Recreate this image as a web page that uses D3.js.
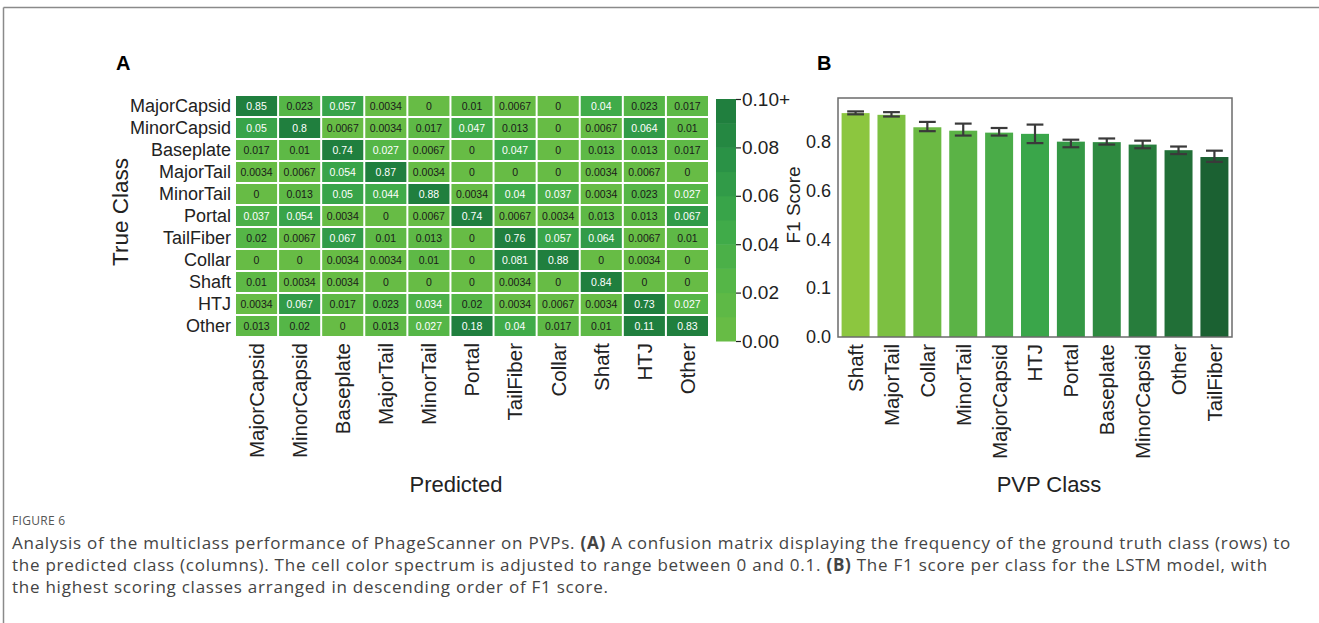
<!DOCTYPE html>
<html>
<head>
<meta charset="utf-8">
<script src="https://cdn.jsdelivr.net/npm/d3@7"></script>
<style>
  html, body { margin: 0; padding: 0; background: #fff; }
  svg { display: block; }
  text { font-family: "Liberation Sans", Arial, Helvetica, sans-serif; }
  .cap { font-family: "Open Sans", "Noto Sans", sans-serif; }
</style>
</head>
<body>
<svg id="fig" width="1319" height="623"></svg>
<script>
// ---- Confusion matrix (rows: true class, columns: predicted class) ----
const classes = ["MajorCapsid", "MinorCapsid", "Baseplate", "MajorTail", "MinorTail",
                 "Portal", "TailFiber", "Collar", "Shaft", "HTJ", "Other"];
const rowMajorCapsid = [0.85, 0.023, 0.057, 0.0034, 0, 0.01, 0.0067, 0, 0.04, 0.023, 0.017];
const rowMinorCapsid = [0.05, 0.8, 0.0067, 0.0034, 0.017, 0.047, 0.013, 0, 0.0067, 0.064, 0.01];
const rowBaseplate   = [0.017, 0.01, 0.74, 0.027, 0.0067, 0, 0.047, 0, 0.013, 0.013, 0.017];
const rowMajorTail   = [0.0034, 0.0067, 0.054, 0.87, 0.0034, 0, 0, 0, 0.0034, 0.0067, 0];
const rowMinorTail   = [0, 0.013, 0.05, 0.044, 0.88, 0.0034, 0.04, 0.037, 0.0034, 0.023, 0.027];
const rowPortal      = [0.037, 0.054, 0.0034, 0, 0.0067, 0.74, 0.0067, 0.0034, 0.013, 0.013, 0.067];
const rowTailFiber   = [0.02, 0.0067, 0.067, 0.01, 0.013, 0, 0.76, 0.057, 0.064, 0.0067, 0.01];
const rowCollar      = [0, 0, 0.0034, 0.0034, 0.01, 0, 0.081, 0.88, 0, 0.0034, 0];
const rowShaft       = [0.01, 0.0034, 0.0034, 0, 0, 0, 0.0034, 0, 0.84, 0, 0];
const rowHTJ         = [0.0034, 0.067, 0.017, 0.023, 0.034, 0.02, 0.0034, 0.0067, 0.0034, 0.73, 0.027];
const rowOther       = [0.013, 0.02, 0, 0.013, 0.027, 0.18, 0.04, 0.017, 0.01, 0.11, 0.83];
const confusion = [rowMajorCapsid, rowMinorCapsid, rowBaseplate, rowMajorTail, rowMinorTail,
                   rowPortal, rowTailFiber, rowCollar, rowShaft, rowHTJ, rowOther];

const colorbarTicks = [0, 0.02, 0.04, 0.06, 0.08, 0.10];
const colorbarTickLabels = ["0.00", "0.02", "0.04", "0.06", "0.08", "0.10+"];

// ---- F1 score per class (LSTM) ----
const f1Classes = ["Shaft", "MajorTail", "Collar", "MinorTail", "MajorCapsid", "HTJ",
                   "Portal", "Baseplate", "MinorCapsid", "Other", "TailFiber"];
const f1Scores = [0.918, 0.911, 0.860, 0.846, 0.838, 0.833, 0.801, 0.799, 0.789, 0.766, 0.738];
const f1Lower  = [0.913, 0.904, 0.844, 0.826, 0.826, 0.795, 0.778, 0.789, 0.774, 0.750, 0.718];
const f1Upper  = [0.925, 0.922, 0.882, 0.875, 0.857, 0.871, 0.809, 0.814, 0.805, 0.781, 0.764];
const f1TickValues = [0, 0.2, 0.4, 0.6, 0.8];
const f1TickLabels = ["0.0", "0.1", "0.4", "0.6", "0.8"];

const svg = d3.select("#fig");
const ink = "#222";

// Figure frame
svg.append("line").attr("x1", 3.5).attr("x2", 1319).attr("y1", 7.5).attr("y2", 7.5)
  .attr("stroke", "#8a8a8a").attr("stroke-width", 1.5);
svg.append("line").attr("x1", 3.5).attr("x2", 3.5).attr("y1", 7.5).attr("y2", 623)
  .attr("stroke", "#8a8a8a").attr("stroke-width", 1.5);

// Panel letters
svg.append("text").attr("x", 116).attr("y", 70).attr("font-size", 20).attr("font-weight", "bold")
  .attr("fill", "#000").text("A");
svg.append("text").attr("x", 817).attr("y", 70).attr("font-size", 20).attr("font-weight", "bold")
  .attr("fill", "#000").text("B");

// ================= Panel A: confusion matrix =================
const mx = d3.scaleBand().domain(classes).range([235, 709]);
const my = d3.scaleBand().domain(classes).range([95, 337]);

const cmap = d3.scaleLinear()
  .domain([0, 0.025, 0.05, 0.075, 0.1])
  .range(["#6cbd45", "#55b647", "#3ba84a", "#2a9246", "#1e7a3c"])
  .clamp(true);
const nSteps = 10;
const quant = v => Math.min(nSteps - 1, Math.floor(Math.min(v, 0.1) / 0.1 * nSteps + 1e-9));
const cellColor = v => cmap((quant(v) + 0.5) / nSteps * 0.1);

const cells = [];
confusion.forEach((row, i) => row.forEach((v, j) =>
  cells.push({ t: classes[i], p: classes[j], v })));

const gA = svg.append("g");
gA.selectAll("rect.cell").data(cells).join("rect")
  .attr("class", "cell")
  .attr("x", d => mx(d.p) + 1)
  .attr("y", d => my(d.t) + 1)
  .attr("width", mx.bandwidth() - 2)
  .attr("height", my.bandwidth() - 2)
  .attr("fill", d => cellColor(d.v));

gA.selectAll("text.val").data(cells).join("text")
  .attr("class", "val")
  .attr("x", d => mx(d.p) + mx.bandwidth() / 2)
  .attr("y", d => my(d.t) + my.bandwidth() / 2)
  .attr("dy", "0.36em")
  .attr("text-anchor", "middle")
  .attr("font-size", 10.5)
  .attr("fill", d => d.v >= 0.025 ? "#ffffff" : "#1a1a1a")
  .text(d => String(d.v));

// Row labels (true class)
gA.selectAll("text.ylab").data(classes).join("text")
  .attr("class", "ylab")
  .attr("x", 231)
  .attr("y", d => my(d) + my.bandwidth() / 2)
  .attr("dy", "0.36em")
  .attr("text-anchor", "end")
  .attr("font-size", 18)
  .attr("fill", ink)
  .text(d => d);

// Column labels (predicted class)
gA.selectAll("text.xlab").data(classes).join("text")
  .attr("class", "xlab")
  .attr("transform", d => `translate(${mx(d) + mx.bandwidth() / 2},343) rotate(-90)`)
  .attr("dy", "0.36em")
  .attr("text-anchor", "end")
  .attr("font-size", 20.5)
  .attr("fill", ink)
  .text(d => d);

svg.append("text")
  .attr("transform", "translate(128,212) rotate(-90)")
  .attr("text-anchor", "middle")
  .attr("font-size", 22.5)
  .attr("fill", ink)
  .text("True Class");

svg.append("text")
  .attr("x", 456).attr("y", 492)
  .attr("text-anchor", "middle")
  .attr("font-size", 22)
  .attr("fill", ink)
  .text("Predicted");

// Colorbar
const cbY = d3.scaleLinear().domain([0, 0.1]).range([341, 99]);
const cbSteps = d3.range(nSteps).map(k => ({ a: k / nSteps * 0.1, b: (k + 1) / nSteps * 0.1 }));
svg.append("g").selectAll("rect").data(cbSteps).join("rect")
  .attr("x", 716).attr("width", 20)
  .attr("y", d => cbY(d.b))
  .attr("height", d => cbY(d.a) - cbY(d.b) + 0.5)
  .attr("fill", d => cellColor((d.a + d.b) / 2));

const cbAxis = d3.axisRight(cbY)
  .tickValues(colorbarTicks)
  .tickFormat((d, i) => colorbarTickLabels[i])
  .tickSize(5).tickPadding(1);
const cbG = svg.append("g").attr("transform", "translate(736,0)").call(cbAxis);
cbG.select(".domain").remove();
cbG.selectAll(".tick line").attr("stroke", ink).attr("stroke-width", 1.2);
cbG.selectAll(".tick text").attr("font-size", 19).attr("fill", ink)
  .attr("font-family", "Liberation Sans, Arial, sans-serif");

// ================= Panel B: F1 bar chart =================
const bx = d3.scaleBand().domain(f1Classes).range([838, 1232]).paddingInner(0.22).paddingOuter(0.1);
const by = d3.scaleLinear().domain([0, 0.98]).range([337, 98]);
const barColor = d3.scaleLinear().domain([0, 0.5, 1])
  .range(["#8cc63f", "#3aa64a", "#1b6132"]);
const n = f1Classes.length;

const gB = svg.append("g");
gB.selectAll("rect.bar").data(f1Classes).join("rect")
  .attr("class", "bar")
  .attr("x", d => bx(d))
  .attr("width", bx.bandwidth())
  .attr("y", (d, i) => by(f1Scores[i]))
  .attr("height", (d, i) => by(0) - by(f1Scores[i]))
  .attr("fill", (d, i) => barColor(i / (n - 1)));

// Error bars
const capW = bx.bandwidth() * 0.6;
const eb = gB.selectAll("g.err").data(f1Classes).join("g").attr("class", "err")
  .attr("stroke", "#3a3a3a").attr("stroke-width", 2.2);
eb.append("line")
  .attr("x1", d => bx(d) + bx.bandwidth() / 2).attr("x2", d => bx(d) + bx.bandwidth() / 2)
  .attr("y1", (d, i) => by(f1Lower[i])).attr("y2", (d, i) => by(f1Upper[i]));
eb.append("line")
  .attr("x1", d => bx(d) + bx.bandwidth() / 2 - capW / 2).attr("x2", d => bx(d) + bx.bandwidth() / 2 + capW / 2)
  .attr("y1", (d, i) => by(f1Lower[i])).attr("y2", (d, i) => by(f1Lower[i]));
eb.append("line")
  .attr("x1", d => bx(d) + bx.bandwidth() / 2 - capW / 2).attr("x2", d => bx(d) + bx.bandwidth() / 2 + capW / 2)
  .attr("y1", (d, i) => by(f1Upper[i])).attr("y2", (d, i) => by(f1Upper[i]));

// Plot frame
gB.append("rect").attr("x", 838).attr("y", 98).attr("width", 1232 - 838).attr("height", 337 - 98)
  .attr("fill", "none").attr("stroke", "#6b6b6b").attr("stroke-width", 1.5);

// Y axis
const yAxis = d3.axisLeft(by).tickValues(f1TickValues)
  .tickFormat((d, i) => f1TickLabels[i]).tickSize(0).tickPadding(7);
const yG = svg.append("g").attr("transform", "translate(838,0)").call(yAxis);
yG.select(".domain").remove();
yG.selectAll(".tick text").attr("font-size", 18).attr("fill", ink)
  .attr("font-family", "Liberation Sans, Arial, sans-serif");

svg.append("text")
  .attr("transform", "translate(800,205) rotate(-90)")
  .attr("text-anchor", "middle")
  .attr("font-size", 19)
  .attr("fill", ink)
  .text("F1 Score");

// X labels
gB.selectAll("text.blab").data(f1Classes).join("text")
  .attr("class", "blab")
  .attr("transform", d => `translate(${bx(d) + bx.bandwidth() / 2},344) rotate(-90)`)
  .attr("dy", "0.36em")
  .attr("text-anchor", "end")
  .attr("font-size", 20.5)
  .attr("fill", ink)
  .text(d => d);

svg.append("text")
  .attr("x", 1049).attr("y", 492)
  .attr("text-anchor", "middle")
  .attr("font-size", 22)
  .attr("fill", ink)
  .text("PVP Class");

// ================= Caption =================
svg.append("text").attr("class", "cap")
  .attr("x", 12).attr("y", 525).attr("font-size", 12).attr("fill", "#555")
  .attr("letter-spacing", 0.3)
  .text("FIGURE 6");

const capLines = [
  [["Analysis of the multiclass performance of PhageScanner on PVPs. ", false], ["(A)", true],
   [" A confusion matrix displaying the frequency of the ground truth class (rows) to", false]],
  [["the predicted class (columns). The cell color spectrum is adjusted to range between 0 and 0.1. ", false],
   ["(B)", true], [" The F1 score per class for the LSTM model, with", false]],
  [["the highest scoring classes arranged in descending order of F1 score.", false]]
];
const capFont = 17;
const capNodes = capLines.map((parts, li) => {
  const t = svg.append("text").attr("class", "cap")
    .attr("x", 12).attr("y", 549 + li * 22).attr("font-size", capFont).attr("fill", "#444");
  parts.forEach(([s, b]) => t.append("tspan").attr("font-weight", b ? 700 : 400).text(s));
  return t;
});
// Spread the caption so the first line spans the full text column width
const line1 = capNodes[0];
const nChars = line1.text().length;
const w1 = line1.node().getComputedTextLength();
const spacing = Math.max(0, (1279 - w1) / nChars);
capNodes.forEach(t => t.attr("letter-spacing", spacing));
</script>
</body>
</html>
